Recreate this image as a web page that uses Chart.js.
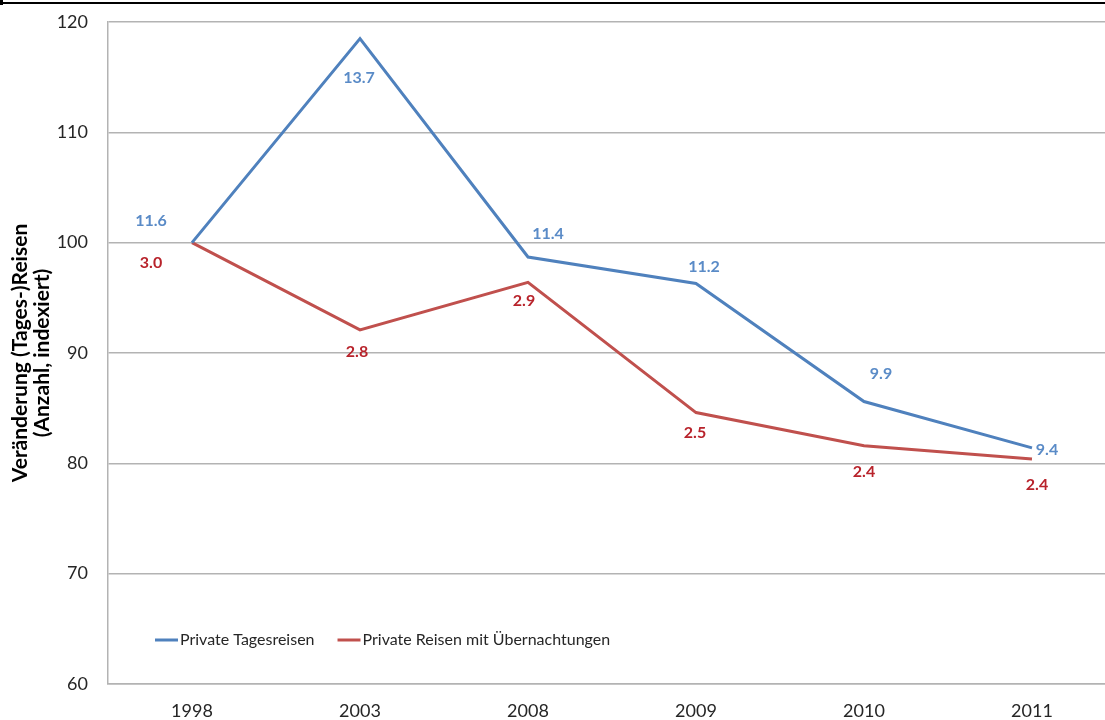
<!DOCTYPE html>
<html>
<head>
<meta charset="utf-8">
<script src="https://cdn.jsdelivr.net/npm/chart.js@4"></script>
<style>
  html, body { margin: 0; padding: 0; background: #fff; }
  #frame { position: relative; width: 1105px; height: 720px; overflow: hidden; }
  #box { position: absolute; left: 0; top: 0; width: 1120px; height: 720px; }
  #topline { position: absolute; left: 0; top: 2px; width: 1105px; height: 2px; background: #000; }
  #corner { position: absolute; left: 0; top: 0; width: 3px; height: 5px; background: #000; }
</style>
</head>
<body>
<div id="frame">
  <div id="box"><canvas id="myChart"></canvas></div>
  <div id="topline"></div>
  <div id="corner"></div>
</div>
<script>
// categories
const years = ["1998", "2003", "2008", "2009", "2010", "2011"];
// indexed values (1998 = 100)
const tagesIndex = [100, 118.5, 98.7, 96.3, 85.6, 81.4];
const uebernachtIndex = [100, 92.1, 96.4, 84.6, 81.6, 80.4];
// absolute numbers shown as point labels
const tagesLabels = ["11.6", "13.7", "11.4", "11.2", "9.9", "9.4"];
const uebernachtLabels = ["3.0", "2.8", "2.9", "2.5", "2.4", "2.4"];
// y axis range
const yMin = 60;
const yMax = 120;
const yStep = 10;

// where each label sits relative to its point (dx, dy in px)
const tagesLabelOffsets = [[-41, -22], [-1, 39], [20, -23], [8, -17], [17, -28], [15, 2]];
const uebernachtLabelOffsets = [[-41, 20], [-3, 22], [-4, 18], [-1, 20], [0, 26], [5, 26]];

const FONT = "Lato, 'Open Sans', sans-serif";
const BLUE = "#4F81BD";
const RED = "#C0504D";

// draws the numbers next to the points
const pointLabels = {
  id: "pointLabels",
  afterDatasetsDraw(chart) {
    const ctx = chart.ctx;
    ctx.save();
    ctx.font = "bold 16px " + FONT;
    ctx.textAlign = "center";
    ctx.textBaseline = "middle";
    chart.data.datasets.forEach((ds, di) => {
      const meta = chart.getDatasetMeta(di);
      meta.data.forEach((pt, i) => {
        const off = ds.labelOffsets[i];
        ctx.fillStyle = ds.labelColor;
        ctx.fillText(ds.pointTexts[i], pt.x + off[0], pt.y + off[1]);
      });
    });
    ctx.restore();
  },
};

// legend inside the plot area, bottom left
const innerLegend = {
  id: "innerLegend",
  afterDraw(chart) {
    const ctx = chart.ctx;
    const area = chart.chartArea;
    const y = area.top + 618;
    let x = area.left + 47;
    ctx.save();
    ctx.font = "16px " + FONT;
    ctx.textBaseline = "middle";
    ctx.textAlign = "left";
    chart.data.datasets.forEach((ds) => {
      ctx.strokeStyle = ds.borderColor;
      ctx.lineWidth = 3;
      ctx.beginPath();
      ctx.moveTo(x, y);
      ctx.lineTo(x + 23, y);
      ctx.stroke();
      ctx.fillStyle = "#262626";
      ctx.fillText(ds.label, x + 25, y);
      x += 25 + ctx.measureText(ds.label).width + 23;
    });
    ctx.restore();
  },
};

const config = {
  type: "line",
  data: {
    labels: years,
    datasets: [
      {
        label: "Private Tagesreisen",
        data: tagesIndex,
        pointTexts: tagesLabels,
        labelOffsets: tagesLabelOffsets,
        labelColor: "#5A8BC7",
        borderColor: BLUE,
        borderWidth: 3,
        pointRadius: 0,
        tension: 0,
      },
      {
        label: "Private Reisen mit Übernachtungen",
        data: uebernachtIndex,
        pointTexts: uebernachtLabels,
        labelOffsets: uebernachtLabelOffsets,
        labelColor: "#B8232B",
        borderColor: RED,
        borderWidth: 3,
        pointRadius: 0,
        tension: 0,
      },
    ],
  },
  options: {
    responsive: true,
    maintainAspectRatio: false,
    animation: false,
    layout: { padding: { top: 22, right: 4, bottom: 0, left: 0 } },
    plugins: {
      legend: { display: false },
      tooltip: { enabled: false },
    },
    scales: {
      x: {
        offset: true,
        grid: { display: false, drawTicks: false },
        border: { display: true, color: "#B3B3B3", width: 1.5 },
        ticks: { color: "#262626", font: { family: FONT, size: 18 }, padding: 16 },
        afterFit: (scale) => {
          scale.height = 36;
        },
      },
      y: {
        min: yMin,
        max: yMax,
        ticks: {
          stepSize: yStep,
          color: "#262626",
          font: { family: FONT, size: 18 },
          padding: 20,
        },
        grid: { color: "#B3B3B3", lineWidth: 1.5, drawTicks: false },
        border: { display: true, color: "#B3B3B3", width: 1.5 },
        title: {
          display: true,
          text: ["Veränderung (Tages-)Reisen", "(Anzahl, indexiert)"],
          color: "#000",
          font: { family: FONT, size: 21, weight: "bold", lineHeight: 1.05 },
          padding: { top: 9, bottom: 0 },
        },
        afterFit: (scale) => {
          scale.width = 108;
          // keep the tick padding from pushing the plot area down
          scale.paddingTop = 0;
          scale.paddingBottom = 0;
        },
      },
    },
  },
  plugins: [pointLabels, innerLegend],
};

const myChart = new Chart(document.getElementById("myChart"), config);
</script>
</body>
</html>
